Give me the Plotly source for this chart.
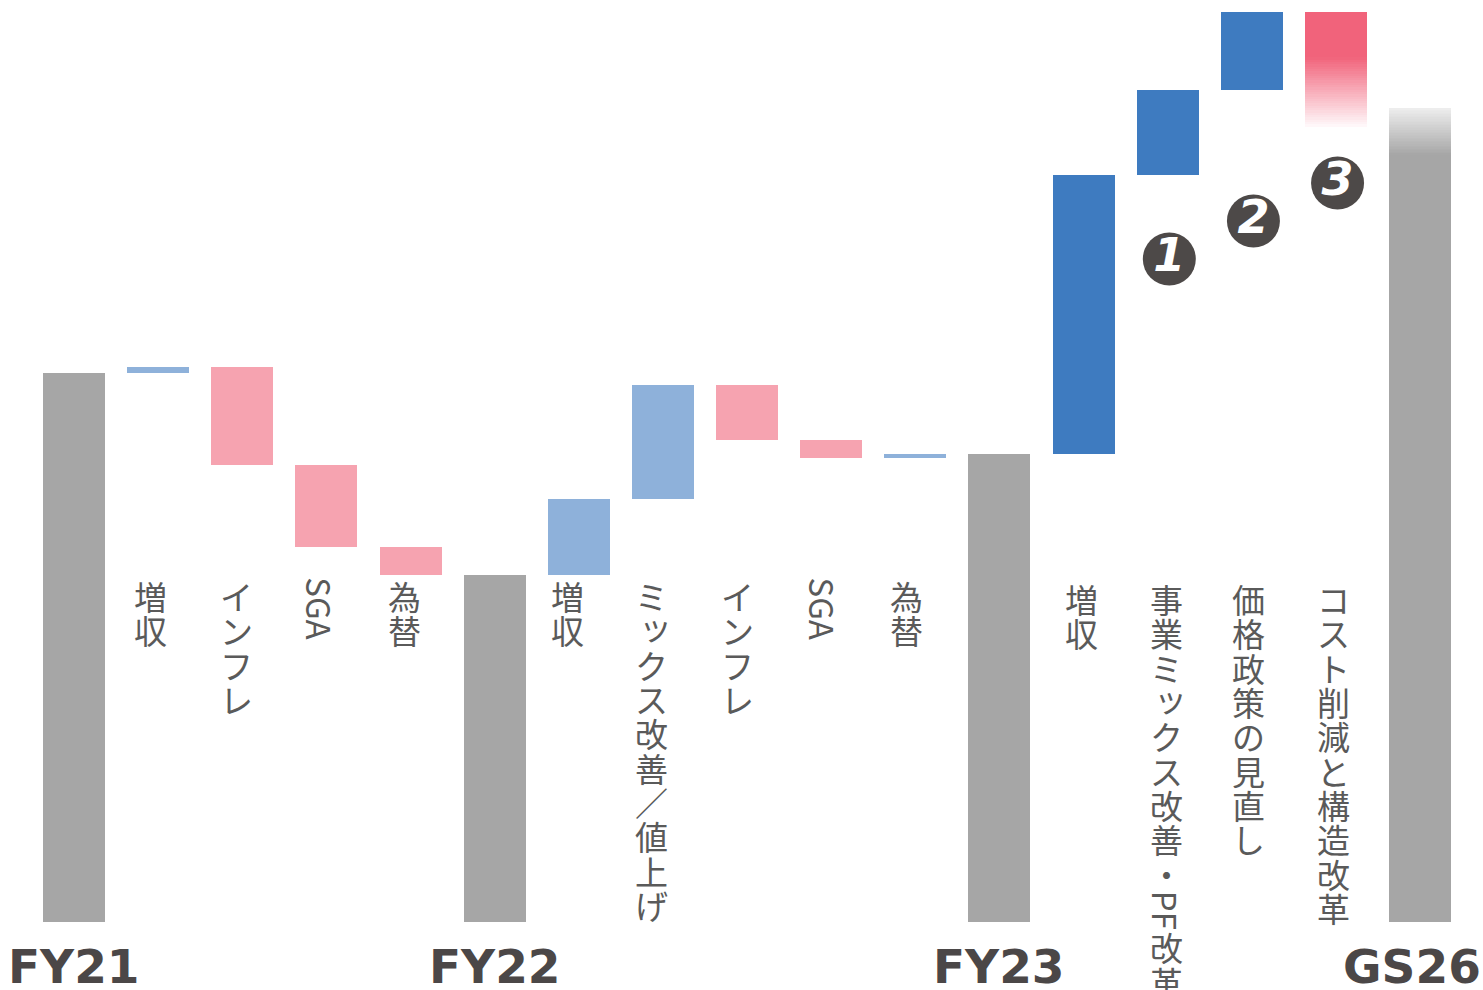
import plotly.graph_objects as go

# ---------------- data ----------------
categories = ["FY21", "増収", "インフレ", "SGA", "為替",
              "FY22", "増収", "ミックス改善／値上げ", "インフレ", "SGA", "為替",
              "FY23", "増収", "事業ミックス改善・PF改革", "価格政策の見直し", "コスト削減と構造改革",
              "GS26"]
measures = ["total", "rel", "rel", "rel", "rel",
            "total", "rel", "rel", "rel", "rel", "rel",
            "total", "rel", "rel", "rel", "rel",
            "total"]
values = [549, 6.5, -98.5, -82, -28,
          347, 76, 114, -55, -18, 4.5,
          468.5, 279, 84.5, 78, -115,
          814]
phase = ["actual"] * 12 + ["plan"] * 5
total_labels = {"FY21": "FY21", "FY22": "FY22", "FY23": "FY23", "GS26": "GS26"}
badge_text = ["1", "2", "3"]
badge_x = [13.02, 14.02, 15.02]
badge_y = [663, 701, 739]

# ---------------- style ----------------
GRAY = "#A6A6A6"
LIGHT_BLUE = "#8EB1DA"
PINK = "#F6A3B0"
DARK_BLUE = "#3E7BC0"
RED = (241, 99, 123)
TEXT = "#5A5A5A"
DARK = "#4B4747"
BAR_W = 0.737
PITCH = 34.3
FS = 33
LABEL_TOP = 343          # data value of top of category labels
label_dx = [0, -8, -6, -6, -6, 0, -11, -11, -10, -8, -9, 0, -2, -1, -3, -2, 0]
label_dy = [0, 0, 0, 0, 0, 0, 0, 0, 0, 0, 0, 0, -3, -3, -3, -3, 0]


def mix(c1, c2, t):
    return "rgb(%d,%d,%d)" % tuple(round(a + (b - a) * t) for a, b in zip(c1, c2))


# ---------------- compute floating bars ----------------
xs, bases, heights, colors = [], [], [], []
running = 0
n = len(categories)
for i, (m, v, ph) in enumerate(zip(measures, values, phase)):
    if m == "total":
        lo, hi = 0, v
        running = v
        if i == n - 1:
            # grey bar with faded top
            fade_lo = hi - 47
            xs.append(i); bases.append(lo); heights.append(fade_lo - lo); colors.append(GRAY)
            steps = 30
            for s in range(steps):
                a = fade_lo + (hi - fade_lo) * s / steps
                b = fade_lo + (hi - fade_lo) * (s + 1) / steps
                xs.append(i); bases.append(a); heights.append(b - a + 0.6)
                colors.append(mix((166, 166, 166), (238, 238, 238), (s + 0.5) / steps))
            heights[-1] -= 0.6
        else:
            xs.append(i); bases.append(lo); heights.append(hi - lo); colors.append(GRAY)
    else:
        start = running
        running = running + v
        lo, hi = min(start, running), max(start, running)
        if ph == "actual":
            col = LIGHT_BLUE if v > 0 else PINK
            xs.append(i); bases.append(lo); heights.append(hi - lo); colors.append(col)
        else:
            if v > 0:
                xs.append(i); bases.append(lo); heights.append(hi - lo); colors.append(DARK_BLUE)
            else:
                # red bar fading out towards its bottom
                solid_lo = hi - 0.4 * (hi - lo)
                xs.append(i); bases.append(solid_lo); heights.append(hi - solid_lo)
                colors.append("rgb(%d,%d,%d)" % RED)
                steps = 30
                for s in range(steps):
                    b = solid_lo - (solid_lo - lo) * s / steps
                    a = solid_lo - (solid_lo - lo) * (s + 1) / steps
                    xs.append(i); bases.append(a); heights.append(b - a + 0.6)
                    colors.append(mix(RED, (255, 250, 251), (s + 0.5) / steps))

fig = go.Figure()
fig.add_trace(go.Bar(
    x=xs, y=heights, base=bases, width=BAR_W,
    marker=dict(color=colors, line=dict(width=0)),
    hoverinfo="skip", showlegend=False,
))

# numbered badges
fig.add_trace(go.Scatter(
    x=badge_x, y=badge_y, mode="markers+text", text=badge_text,
    textposition="middle center",
    marker=dict(size=53, color="#4D4948", line=dict(width=0)),
    textfont=dict(family="DejaVu Sans", size=46, color="white", weight="bold", style="italic"),
    hoverinfo="skip", showlegend=False,
))

annotations = []
# vertical (tategaki) category labels
for i, (cat, m) in enumerate(zip(categories, measures)):
    if m == "total":
        continue
    # split into upright chars and latin runs
    segs = []
    buf = ""
    for ch in cat:
        if ch.isascii() and ch.isalpha():
            buf += ch
        else:
            if buf:
                segs.append(("latin", buf)); buf = ""
            segs.append(("cjk", ch))
    if buf:
        segs.append(("latin", buf))
    cursor = 0.0
    for kind, s in segs:
        if kind == "cjk":
            c = cursor + PITCH / 2
            cursor += PITCH
            dx, dy = 0, 0
            if s in "ッ":
                dx, dy = 4, 4
            annotations.append(dict(
                x=i, y=LABEL_TOP, xref="x", yref="y", text=s, showarrow=False,
                xanchor="center", yanchor="middle", height=PITCH, valign="middle",
                xshift=label_dx[i] + dx, yshift=-c + dy + label_dy[i],
                font=dict(family="Noto Sans CJK JP", size=FS, color=TEXT),
            ))
        else:
            length = len(s) * 0.6 * FS
            c = cursor + length / 2
            cursor += length
            annotations.append(dict(
                x=i, y=LABEL_TOP, xref="x", yref="y", text=s, showarrow=False,
                textangle=90, xanchor="center", yanchor="middle",
                xshift=label_dx[i], yshift=-c + label_dy[i],
                font=dict(family="Noto Sans CJK JP", size=FS, color=TEXT),
            ))

# bottom labels for totals
for i, (cat, m) in enumerate(zip(categories, measures)):
    if m != "total":
        continue
    annotations.append(dict(
        x=i, y=0, xref="x", yref="paper", text=total_labels[cat], showarrow=False,
        xanchor="center", yanchor="middle", yshift=-44, height=42, valign="middle",
        xshift=-8 if i == n - 1 else 0,
        font=dict(family="DejaVu Sans", size=47, color=DARK, weight="bold"),
    ))

fig.update_layout(
    width=1483, height=990,
    margin=dict(l=0, r=0, t=0, b=68, pad=0),
    paper_bgcolor="white", plot_bgcolor="white",
    barmode="overlay", bargap=0,
    xaxis=dict(range=[-74 / 84.125, (1483 - 74) / 84.125], showgrid=False, zeroline=False,
               showticklabels=False, ticks="", showline=False, fixedrange=True),
    yaxis=dict(range=[0, 922], showgrid=False, zeroline=False, showticklabels=False,
               ticks="", showline=False, fixedrange=True),
    annotations=annotations,
    showlegend=False,
)

fig.write_html("out.html")
